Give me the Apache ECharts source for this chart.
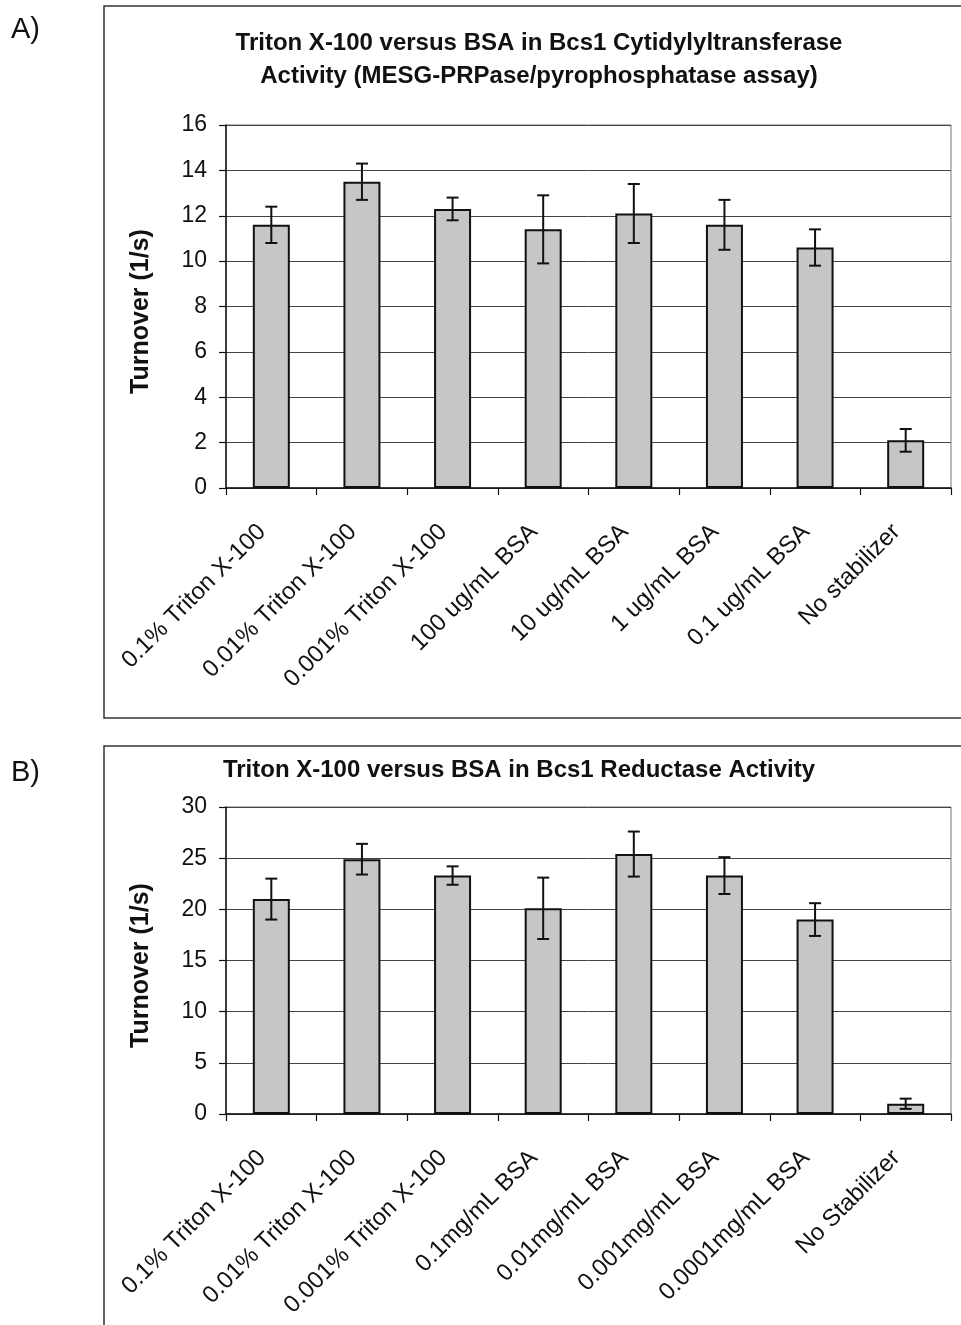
<!DOCTYPE html>
<html>
<head>
<meta charset="utf-8">
<script src="https://cdn.jsdelivr.net/npm/echarts@6/dist/echarts.min.js"></script>
<style>
  html, body { margin: 0; padding: 0; background: #fff; }
  #chart { width: 961px; height: 1325px; }
</style>
</head>
<body>
<div id="chart"></div>
<script>
// ---- Data ----
const titleA = 'Triton X-100 versus BSA in Bcs1 Cytidylyltransferase\nActivity (MESG-PRPase/pyrophosphatase assay)';
const titleB = 'Triton X-100 versus BSA in Bcs1 Reductase Activity';
const yNameA = 'Turnover (1/s)';
const yNameB = 'Turnover (1/s)';
const categoriesA = ['0.1% Triton X-100', '0.01% Triton X-100', '0.001% Triton X-100', '100 ug/mL BSA', '10 ug/mL BSA', '1 ug/mL BSA', '0.1 ug/mL BSA', 'No stabilizer'];
const valuesA = [11.6, 13.5, 12.3, 11.4, 12.1, 11.6, 10.6, 2.1];
const errorsA = [0.8, 0.8, 0.5, 1.5, 1.3, 1.1, 0.8, 0.5];
const categoriesB = ['0.1% Triton X-100', '0.01% Triton X-100', '0.001% Triton X-100', '0.1mg/mL BSA', '0.01mg/mL BSA', '0.001mg/mL BSA', '0.0001mg/mL BSA', 'No Stabilizer'];
const valuesB = [21.0, 24.9, 23.3, 20.1, 25.4, 23.3, 19.0, 1.0];
const errorsB = [2.0, 1.5, 0.9, 3.0, 2.2, 1.8, 1.6, 0.5];
const yTicksA = { min: 0, max: 16, interval: 2 };
const yTicksB = { min: 0, max: 30, interval: 5 };

// ---- Styling ----
const FONT = "'Liberation Sans', Arial, Helvetica, sans-serif";
const INK = '#111';

function errData(vals, errs) {
  return vals.map((v, i) => [i, v - errs[i], v + errs[i]]);
}

function renderErr(params, api) {
  const x = api.value(0);
  const lo = api.coord([x, api.value(1)]);
  const hi = api.coord([x, api.value(2)]);
  const hw = 6;
  const st = { stroke: INK, lineWidth: 2 };
  return {
    type: 'group',
    children: [
      { type: 'line', shape: { x1: hi[0], y1: hi[1], x2: lo[0], y2: lo[1] }, style: st },
      { type: 'line', shape: { x1: hi[0] - hw, y1: hi[1], x2: hi[0] + hw, y2: hi[1] }, style: st },
      { type: 'line', shape: { x1: lo[0] - hw, y1: lo[1], x2: lo[0] + hw, y2: lo[1] }, style: st }
    ]
  };
}

function xAxisFor(cats, gi) {
  return {
    type: 'category', gridIndex: gi, data: cats,
    axisLine: { lineStyle: { color: INK, width: 1.5 } },
    axisTick: { show: true, interval: 0, length: 7, lineStyle: { color: INK, width: 1.2 } },
    axisLabel: { interval: 0, rotate: 45, margin: 31, padding: [0, 13, 0, 0], color: INK, fontFamily: FONT, fontSize: 24 }
  };
}

function yAxisFor(t, name, gi) {
  return {
    type: 'value', gridIndex: gi, min: t.min, max: t.max, interval: t.interval,
    name: name, nameLocation: 'middle', nameGap: 72, nameRotate: 90,
    nameTextStyle: { color: INK, fontFamily: FONT, fontSize: 25, fontWeight: 'bold', padding: [0, 10, 0, 0] },
    axisLine: { show: true, lineStyle: { color: INK, width: 1.5 } },
    axisTick: { show: true, length: 7, lineStyle: { color: INK, width: 1.2 } },
    axisLabel: { margin: 19, color: INK, fontFamily: FONT, fontSize: 23 },
    splitLine: { show: true, lineStyle: { color: '#444', width: 1 } }
  };
}

const barStyle = { color: '#c6c6c6', borderColor: INK, borderWidth: 2 };

const option = {
  animation: false,
  backgroundColor: '#fff',
  title: [
    { text: titleA, left: 539, top: 27, textAlign: 'center', padding: 0,
      textStyle: { fontFamily: FONT, fontSize: 24, fontWeight: 'bold', color: INK, lineHeight: 33 } },
    { text: titleB, left: 519, top: 754, textAlign: 'center', padding: 0,
      textStyle: { fontFamily: FONT, fontSize: 24, fontWeight: 'bold', color: INK, lineHeight: 33 } }
  ],
  graphic: [
    { type: 'rect', shape: { x: 104, y: 6, width: 900, height: 712 }, style: { fill: 'none', stroke: '#333', lineWidth: 1.5 }, z: -1 },
    { type: 'rect', shape: { x: 104, y: 746, width: 900, height: 700 }, style: { fill: 'none', stroke: '#333', lineWidth: 1.5 }, z: -1 },
    { type: 'text', x: 11, y: 30, style: { text: 'A)', fontFamily: FONT, fontSize: 29, fill: INK, verticalAlign: 'middle' } },
    { type: 'text', x: 11, y: 773, style: { text: 'B)', fontFamily: FONT, fontSize: 29, fill: INK, verticalAlign: 'middle' } }
  ],
  grid: [
    { left: 226, right: 10, top: 125, height: 363, show: true, borderColor: '#777', borderWidth: 1, backgroundColor: 'transparent' },
    { left: 226, right: 10, top: 807, height: 307, show: true, borderColor: '#777', borderWidth: 1, backgroundColor: 'transparent' }
  ],
  xAxis: [xAxisFor(categoriesA, 0), xAxisFor(categoriesB, 1)],
  yAxis: [yAxisFor(yTicksA, yNameA, 0), yAxisFor(yTicksB, yNameB, 1)],
  series: [
    { type: 'bar', xAxisIndex: 0, yAxisIndex: 0, data: valuesA, barWidth: 37, itemStyle: barStyle },
    { type: 'custom', xAxisIndex: 0, yAxisIndex: 0, data: errData(valuesA, errorsA), renderItem: renderErr, z: 5 },
    { type: 'bar', xAxisIndex: 1, yAxisIndex: 1, data: valuesB, barWidth: 37, itemStyle: barStyle },
    { type: 'custom', xAxisIndex: 1, yAxisIndex: 1, data: errData(valuesB, errorsB), renderItem: renderErr, z: 5 }
  ]
};

const chart = echarts.init(document.getElementById('chart'), null, { renderer: 'canvas' });
chart.setOption(option);
</script>
</body>
</html>
